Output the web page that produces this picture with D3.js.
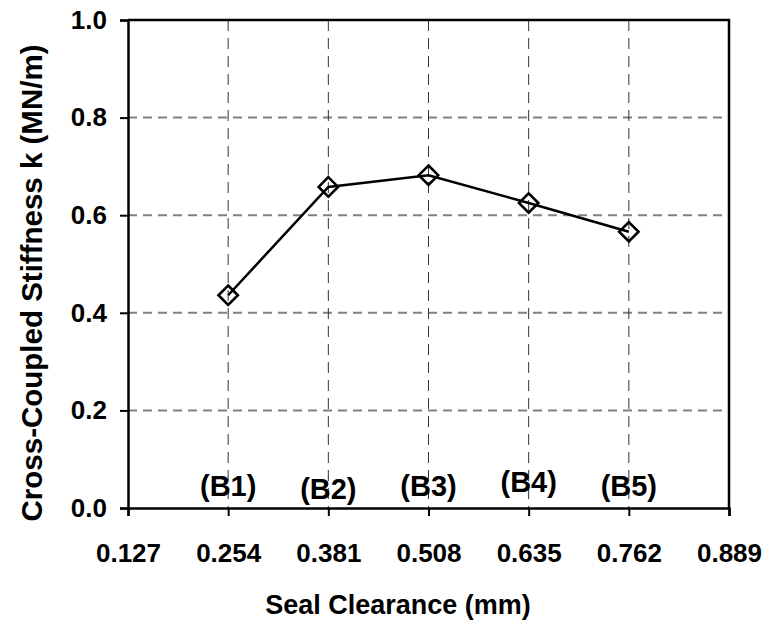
<!DOCTYPE html>
<html>
<head>
<meta charset="utf-8">
<script src="https://cdn.jsdelivr.net/npm/d3@7/dist/d3.min.js"></script>
<style>
  html, body { margin: 0; padding: 0; background: #fff; }
  svg { display: block; }
  text { font-family: "Liberation Sans", Arial, sans-serif; font-weight: bold; fill: #000; }
</style>
</head>
<body>
<svg id="chart" width="771" height="625"></svg>
<script>
// ---- data ----
const clearance = [0.254, 0.381, 0.508, 0.635, 0.762];
const stiffness = [0.436, 0.658, 0.682, 0.625, 0.566];
const caseLabels = ["(B1)", "(B2)", "(B3)", "(B4)", "(B5)"];
const caseLabelY = [0.025, 0.018, 0.025, 0.033, 0.025];
const xTicks = [0.127, 0.254, 0.381, 0.508, 0.635, 0.762, 0.889];
const yTicks = [0.0, 0.2, 0.4, 0.6, 0.8, 1.0];
const xTitle = "Seal Clearance (mm)";
const yTitle = "Cross-Coupled Stiffness k (MN/m)";

// ---- layout ----
const svg = d3.select("#chart");
const mLeft = 128, mRight = 729, mTop = 20, mBottom = 508;
const x = d3.scaleLinear().domain([0.127, 0.889]).range([mLeft, mRight]);
const y = d3.scaleLinear().domain([0, 1]).range([mBottom, mTop]);

// horizontal grid
svg.append("g").selectAll("line")
  .data(yTicks.filter(v => v > 0 && v < 1))
  .join("line")
  .attr("x1", mLeft).attr("x2", mRight)
  .attr("y1", d => y(d)).attr("y2", d => y(d))
  .attr("stroke", "#808080").attr("stroke-width", 2)
  .attr("stroke-dasharray", "9,6");

// vertical grid
svg.append("g").selectAll("line")
  .data(xTicks.filter(v => v > 0.127 && v < 0.889))
  .join("line")
  .attr("x1", d => x(d)).attr("x2", d => x(d))
  .attr("y1", mTop).attr("y2", mBottom)
  .attr("stroke", "#333").attr("stroke-width", 1)
  .attr("stroke-dasharray", "11,7");

// frame (top and right)
svg.append("path")
  .attr("d", `M${mLeft},${mTop}H${mRight}V${mBottom}`)
  .attr("fill", "none").attr("stroke", "#000").attr("stroke-width", 2.5);

// axes
const fmtX = d3.format(".3f"), fmtY = d3.format(".1f");
const xAxis = svg.append("g").attr("transform", `translate(0,${mBottom})`)
  .call(d3.axisBottom(x).tickValues(xTicks).tickFormat(fmtX).tickSize(8).tickPadding(28));
const yAxis = svg.append("g").attr("transform", `translate(${mLeft},0)`)
  .call(d3.axisLeft(y).tickValues(yTicks).tickFormat(fmtY).tickSize(8).tickPadding(13));
[xAxis, yAxis].forEach(g => {
  g.select(".domain").attr("stroke", "#000").attr("stroke-width", 2.5);
  g.selectAll(".tick line").attr("stroke", "#000").attr("stroke-width", 2);
  g.selectAll(".tick text").attr("font-size", 26)
    .style("font-family", '"Liberation Sans", Arial, sans-serif').style("font-weight", "bold").attr("fill", "#000");
});
xAxis.selectAll(".tick text").attr("dy", "0.71em");

// case labels
svg.append("g").selectAll("text")
  .data(caseLabels)
  .join("text")
  .attr("x", (d, i) => x(clearance[i]))
  .attr("y", (d, i) => y(caseLabelY[i]))
  .attr("text-anchor", "middle")
  .attr("font-size", 29)
  .text(d => d);

// line
const pts = clearance.map((c, i) => [c, stiffness[i]]);
svg.append("path")
  .datum(pts)
  .attr("fill", "none").attr("stroke", "#000").attr("stroke-width", 2.5)
  .attr("d", d3.line().x(d => x(d[0])).y(d => y(d[1])));

// markers
const diamond = d3.symbol().type(d3.symbolDiamond2).size(240);
svg.append("g").selectAll("path")
  .data(pts)
  .join("path")
  .attr("transform", d => `translate(${x(d[0])},${y(d[1])})`)
  .attr("d", diamond)
  .attr("fill", "none").attr("stroke", "#000").attr("stroke-width", 2.6);

// titles
svg.append("text")
  .attr("x", 398).attr("y", 614)
  .attr("text-anchor", "middle").attr("font-size", 27)
  .text(xTitle);
svg.append("text")
  .attr("transform", "translate(42,283) rotate(-90)")
  .attr("text-anchor", "middle").attr("font-size", 29.5)
  .text(yTitle);
</script>
</body>
</html>
